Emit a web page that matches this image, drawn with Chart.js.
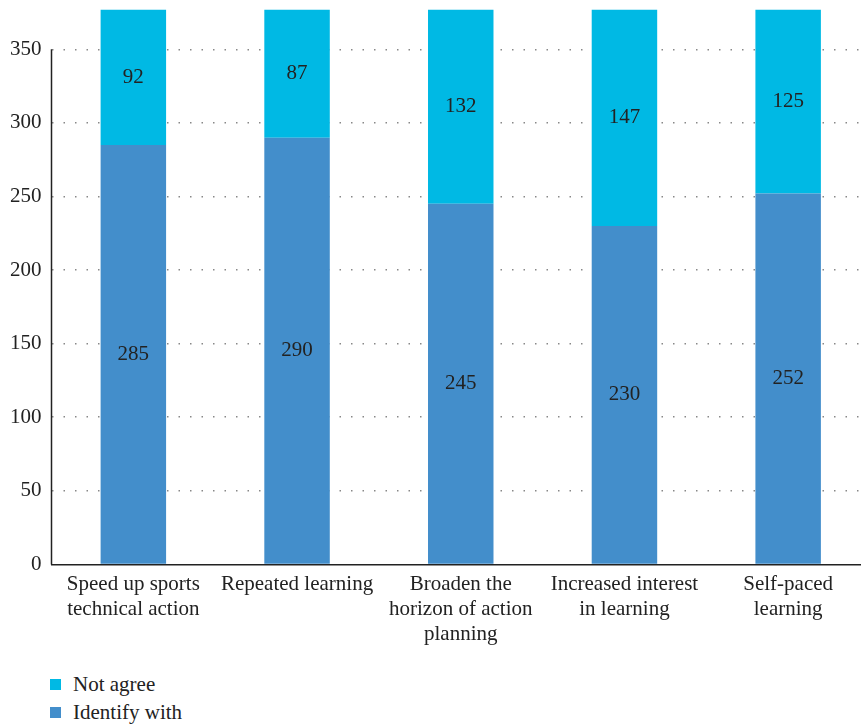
<!DOCTYPE html>
<html>
<head>
<meta charset="utf-8">
<script src="https://cdn.jsdelivr.net/npm/chart.js@4.4.1/dist/chart.umd.min.js"></script>
<style>
  html, body { margin: 0; padding: 0; background: #fff; overflow: hidden; }
  #wrap { position: absolute; left: 0; top: -13px; width: 870px; height: 659px; }
  #legend { position: absolute; left: 50px; top: 670px; font-family: "Liberation Serif", "Times New Roman", serif; font-size: 21px; color: #222; }
  #legend div { height: 28px; line-height: 28px; }
  #legend span.box { display: inline-block; width: 11px; height: 11px; margin-right: 12px; vertical-align: 1px; }
</style>
</head>
<body>
<div id="wrap"><canvas id="c"></canvas></div>
<div id="legend"></div>
<script>
  var categories = [
    ["Speed up sports", "technical action"],
    ["Repeated learning"],
    ["Broaden the", "horizon of action", "planning"],
    ["Increased interest", "in learning"],
    ["Self-paced", "learning"]
  ];
  var identifyWith = [285, 290, 245, 230, 252];
  var notAgree = [92, 87, 132, 147, 125];
  var yTicks = [0, 50, 100, 150, 200, 250, 300, 350];

  var FONT = "'Liberation Serif', 'Times New Roman', serif";

  var barValues = {
    id: "barValues",
    afterDatasetsDraw: function (chart) {
      var ctx = chart.ctx;
      ctx.save();
      ctx.font = "21px " + FONT;
      ctx.fillStyle = "#222";
      ctx.textAlign = "center";
      ctx.textBaseline = "middle";
      chart.data.datasets.forEach(function (ds, i) {
        chart.getDatasetMeta(i).data.forEach(function (bar, j) {
          var p = bar.getProps(["x", "y", "base"], true);
          ctx.fillText(String(ds.data[j]), p.x, (p.y + p.base) / 2);
        });
      });
      // y axis line from 350 down to 0
      var y = chart.scales.y;
      ctx.strokeStyle = "#222";
      ctx.lineWidth = 1.5;
      ctx.beginPath();
      ctx.moveTo(chart.chartArea.left, y.getPixelForValue(350));
      ctx.lineTo(chart.chartArea.left, y.getPixelForValue(0));
      ctx.stroke();
      ctx.restore();
    }
  };

  var chart = new Chart(document.getElementById("c"), {
    type: "bar",
    data: {
      labels: categories,
      datasets: [
        { label: "Identify with", data: identifyWith, backgroundColor: "#438ecb" },
        { label: "Not agree", data: notAgree, backgroundColor: "#00b9e4" }
      ]
    },
    options: {
      responsive: true,
      maintainAspectRatio: false,
      animation: false,
      layout: { padding: { top: 0, left: 0, right: 0, bottom: 0 } },
      datasets: { bar: { categoryPercentage: 1, barPercentage: 0.4 } },
      scales: {
        x: {
          stacked: true,
          grid: { display: false },
          border: { display: true, color: "#222", width: 1.5 },
          ticks: { color: "#222", font: { family: FONT, size: 21, lineHeight: 1.2 }, padding: -1, maxRotation: 0 }
        },
        y: {
          stacked: true,
          min: 0,
          max: 377,
          afterBuildTicks: function (axis) {
            axis.ticks = yTicks.map(function (v) { return { value: v }; });
          },
          border: { display: false, dash: [1.5, 10] },
          grid: {
            drawTicks: false,
            color: function (c) { return c.tick && c.tick.value === 0 ? "rgba(0,0,0,0)" : "#888"; },
            lineWidth: 1.5
          },
          ticks: { color: "#222", font: { family: FONT, size: 21 }, padding: 10 }
        }
      },
      plugins: {
        legend: { display: false },
        tooltip: { enabled: false }
      }
    },
    plugins: [barValues]
  });

  var legend = document.getElementById("legend");
  chart.data.datasets.slice().reverse().forEach(function (ds) {
    var row = document.createElement("div");
    var box = document.createElement("span");
    box.className = "box";
    box.style.background = ds.backgroundColor;
    row.appendChild(box);
    row.appendChild(document.createTextNode(ds.label));
    legend.appendChild(row);
  });
</script>
</body>
</html>
